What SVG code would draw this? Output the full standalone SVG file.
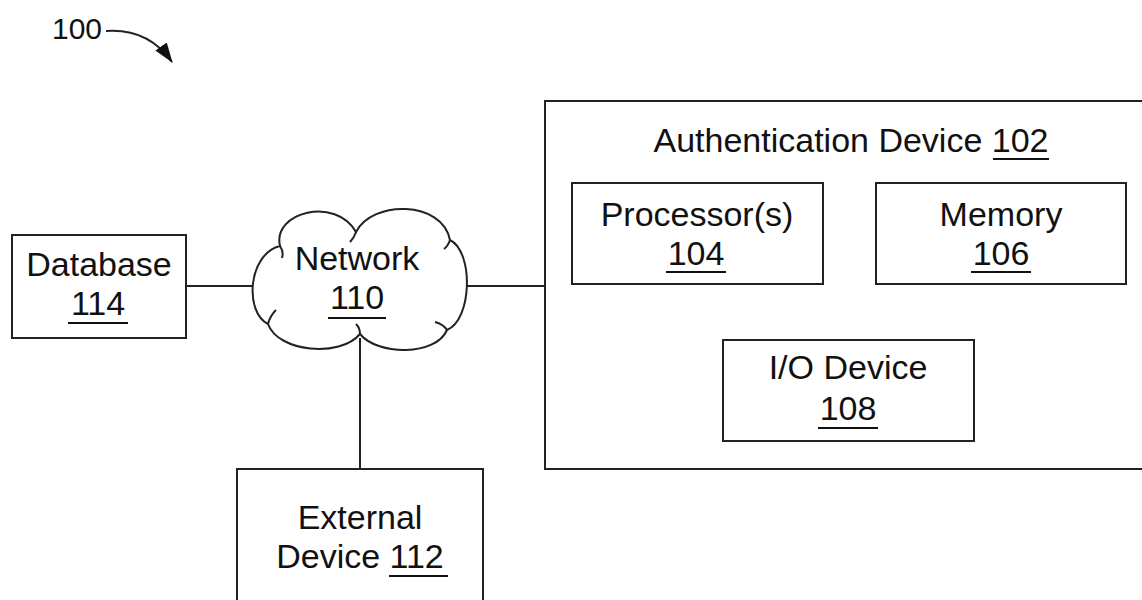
<svg xmlns="http://www.w3.org/2000/svg" width="1142" height="600" viewBox="0 0 1142 600">
<style>
  .box { fill: #fff; stroke: #222; stroke-width: 2; }
  .t { font-family: "Liberation Sans", Arial, sans-serif; font-size: 34px; fill: #111; text-anchor: middle; }
  .ul { stroke: #111; stroke-width: 2; }
  .conn { stroke: #222; stroke-width: 2; fill: none; }
</style>
<defs>
  <marker id="ah2" viewBox="0 0 20 14" markerWidth="20" markerHeight="14" refX="19" refY="7" orient="auto" markerUnits="userSpaceOnUse">
    <path d="M0,0 L20,7 L0,14 Z" fill="#111"/>
  </marker>
</defs>
<rect width="1142" height="600" fill="#fff"/>

<g id="label-100">
  <text x="77" y="39" class="t" style="font-size:30px">100</text>
  <path d="M106 31 Q 148 28 172 62" class="conn" stroke-width="1.5" marker-end="url(#ah2)"/>
</g>

<g id="connectors">
  <line x1="186" y1="286" x2="256" y2="286" class="conn"/>
  <line x1="463" y1="286" x2="545" y2="286" class="conn"/>
  <line x1="360" y1="338" x2="360" y2="469" class="conn"/>
</g>

<g id="auth-device">
  <rect x="545" y="101" width="610" height="368" class="box"/>
  <text x="851" y="152" class="t">Authentication Device 102</text>
  <line x1="993" y1="159" x2="1049" y2="159" class="ul"/>
</g>

<g id="processor">
  <rect x="572" y="183" width="251" height="101" class="box"/>
  <text x="697" y="226" class="t">Processor(s)</text>
  <text x="696" y="265" class="t">104</text>
  <line x1="666" y1="272" x2="726" y2="272" class="ul"/>
</g>

<g id="memory">
  <rect x="876" y="183" width="250" height="101" class="box"/>
  <text x="1001" y="226" class="t">Memory</text>
  <text x="1001" y="265" class="t">106</text>
  <line x1="971" y1="272" x2="1031" y2="272" class="ul"/>
</g>

<g id="io-device">
  <rect x="723" y="340" width="251" height="101" class="box"/>
  <text x="848" y="379" class="t">I/O Device</text>
  <text x="848" y="420" class="t">108</text>
  <line x1="818" y1="428" x2="878" y2="428" class="ul"/>
</g>

<g id="database">
  <rect x="12" y="235" width="174" height="103" class="box"/>
  <text x="99" y="276" class="t">Database</text>
  <text x="98" y="315" class="t">114</text>
  <line x1="68" y1="323" x2="128" y2="323" class="ul"/>
</g>

<g id="network">
  <path d="M280 246 C 272 212, 336 196, 356 232 C 372 200, 442 200, 450 240 C 474 252, 472 320, 447 330 C 436 356, 378 356, 360 334 C 340 358, 278 352, 268 324 C 244 312, 248 254, 280 246 Z" class="box"/>
  <path d="M280 246 q 4 6 2 12 M356 232 q -2 6 -6 10 M450 240 q -2 6 -6 9 M447 330 q -4 -6 -12 -8 M360 334 q 0 -6 -4 -10 M268 324 q 2 -8 8 -14" class="conn" stroke-width="1.2"/>
  <text x="357" y="270" class="t">Network</text>
  <text x="357" y="309" class="t">110</text>
  <line x1="328" y1="318" x2="386" y2="318" class="ul"/>
</g>

<g id="external-device">
  <rect x="237" y="469" width="246" height="140" class="box"/>
  <text x="360" y="529" class="t">External</text>
  <text x="360" y="568" class="t">Device 112</text>
  <line x1="389" y1="576" x2="448" y2="576" class="ul"/>
</g>
</svg>
